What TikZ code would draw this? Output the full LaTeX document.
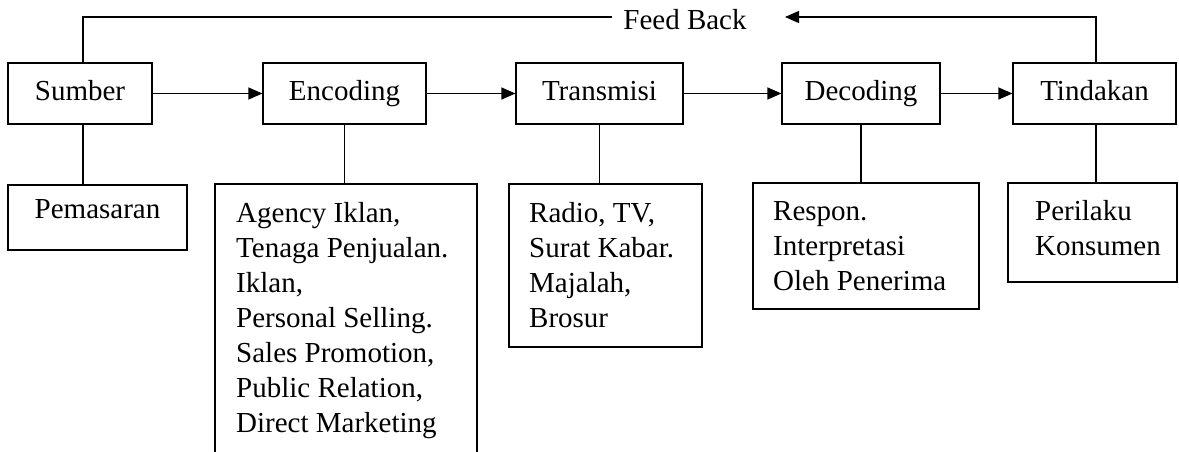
\documentclass[tikz,border=0pt]{standalone}
\usepackage{fontspec}
\setmainfont{Liberation Serif}
\usetikzlibrary{arrows.meta}
\begin{document}
\begin{tikzpicture}[x=1pt,y=-1pt,
  box/.style={draw, line width=1.2pt, inner sep=0pt, text height=20pt, text depth=6pt, font=\fontsize{29}{35}\selectfont},
  txt/.style={inner sep=0pt, align=left, anchor=north west, font=\fontsize{29}{35}\selectfont},
  conn/.style={line width=1.2pt},
  arr/.style={line width=1.2pt, -{Triangle[length=14pt,width=12pt]}}]
\path[use as bounding box] (0,0) rectangle (1179,452);
\clip (0,0) rectangle (1179,452);
% top row
\node[box, minimum width=144pt, minimum height=61pt] (sumber) at (80,93.5) {Sumber};
\node[box, minimum width=163pt, minimum height=61pt] (enc) at (344.5,93.5) {Encoding};
\node[box, minimum width=167pt, minimum height=61pt] (trans) at (599.5,93.5) {Transmisi};
\node[box, minimum width=158pt, minimum height=61pt] (dec) at (861,93.5) {Decoding};
\node[box, minimum width=163pt, minimum height=61pt] (tind) at (1094.5,93.5) {Tindakan};
% bottom row
\node[box, text depth=19pt, minimum width=179pt, minimum height=65pt] (pem) at (97.5,217.5) {Pemasaran};
\node[box, minimum width=262pt, minimum height=296pt] (encl) at (346,332) {};
\node[box, minimum width=193pt, minimum height=163pt] (tral) at (605.5,265.5) {};
\node[box, minimum width=226pt, minimum height=126pt] (decl) at (866,246) {};
\node[box, minimum width=169pt, minimum height=99pt] (tinl) at (1092.5,232.5) {};
% texts of lower boxes
\node[txt] (enct) at (236,202) {Agency Iklan,\\Tenaga Penjualan.\\Iklan,\\Personal Selling.\\Sales Promotion,\\Public Relation,\\Direct Marketing};
\node[txt] (trat) at (529,202) {Radio, TV,\\Surat Kabar.\\Majalah,\\Brosur};
\node[txt] (dect) at (773,201) {Respon.\\Interpretasi\\Oleh Penerima};
\node[txt] (tint) at (1035,200) {Perilaku\\Konsumen};
% arrows
\draw[arr] (sumber.east) -- (enc.west);
\draw[arr] (enc.east) -- (trans.west);
\draw[arr] (trans.east) -- (dec.west);
\draw[arr] (dec.east) -- (tind.west);
% vertical links
\draw[conn] ([xshift=3pt]sumber.south) -- ([xshift=3pt]sumber.south |- pem.north);
\draw[conn] (enc.south) -- (enc.south |- encl.north);
\draw[conn] (trans.south) -- (trans.south |- tral.north);
\draw[conn] (dec.south) -- (dec.south |- decl.north);
\draw[conn] ([xshift=1.5pt]tind.south) -- ([xshift=1.5pt]tind.south |- tinl.north);
% feedback
\coordinate (fbtip) at (785,17);
\node[inner xsep=11pt, inner ysep=0pt, anchor=base, font=\fontsize{29}{35}\selectfont] (fb) at (685,30) {Feed Back};
\draw[arr] ([xshift=1.5pt]tind.north) |- (fbtip);
\draw[conn] (fb.west |- fbtip) -| ([xshift=3pt]sumber.north);
\end{tikzpicture}
\end{document}
